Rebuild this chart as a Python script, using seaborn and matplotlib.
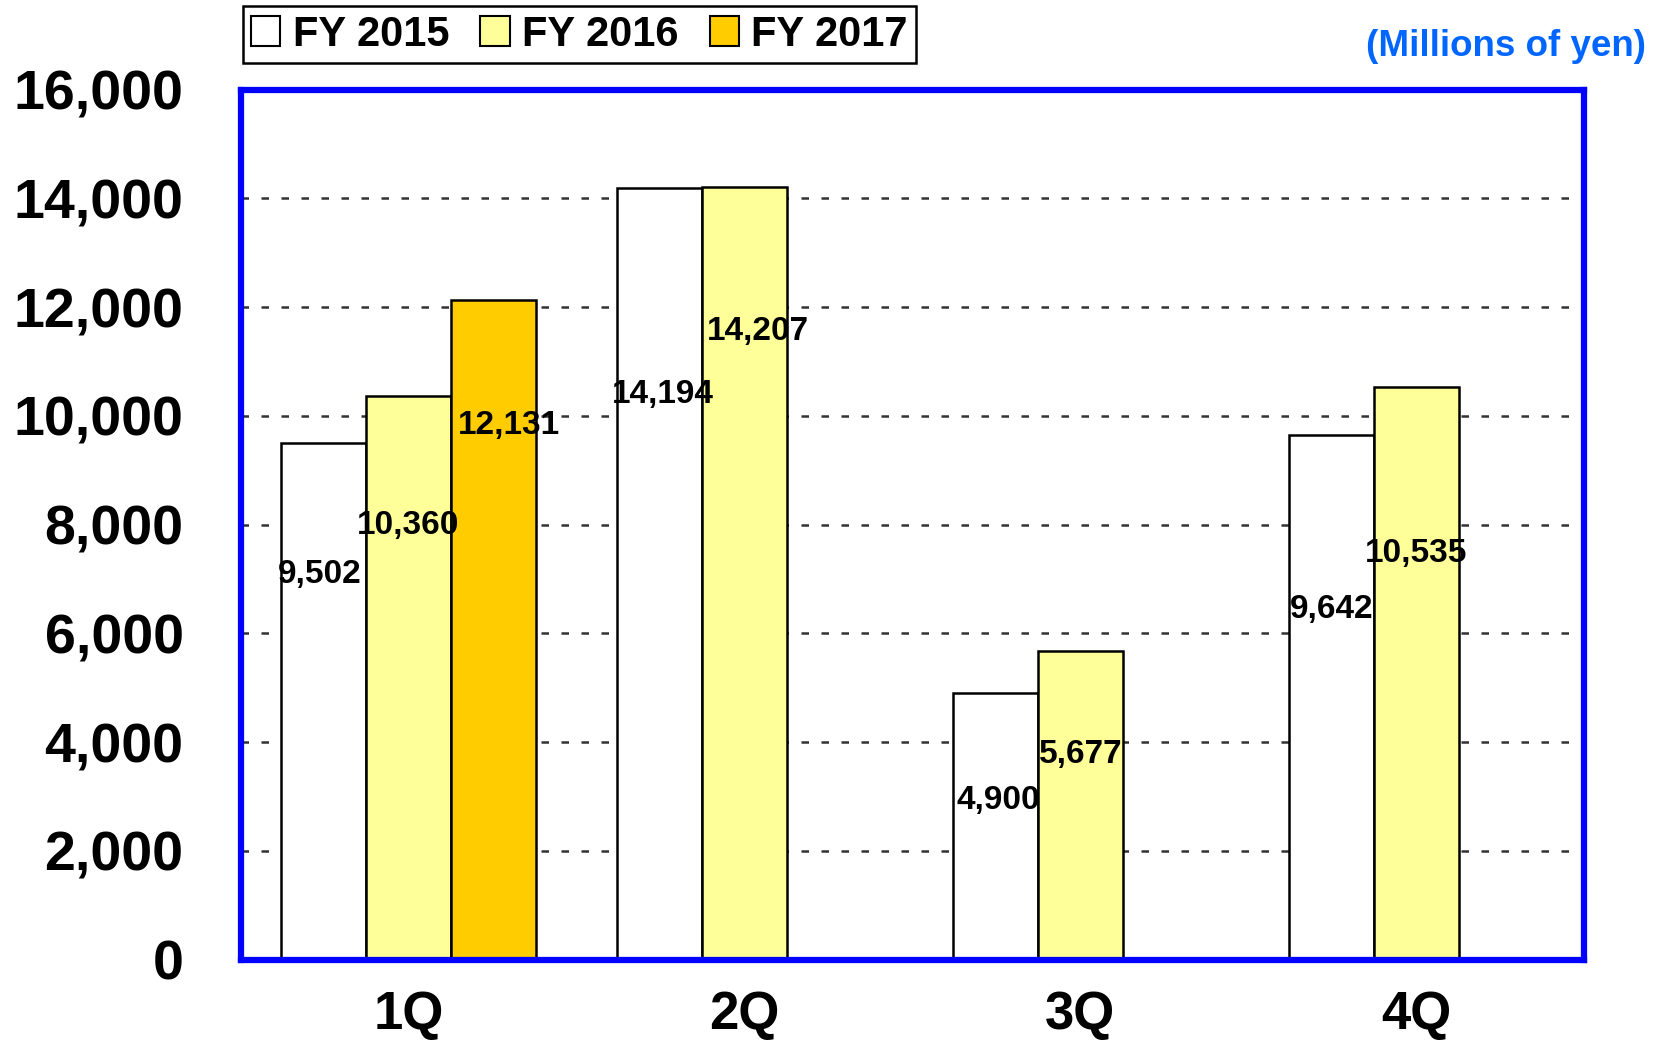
import pandas as pd
import matplotlib
matplotlib.use("Agg")
import matplotlib.pyplot as plt
from matplotlib.patches import Patch
import seaborn as sns

# Datos del gráfico (millones de yenes)
quarters = ["1Q", "2Q", "3Q", "4Q"]
years = ["FY 2015", "FY 2016", "FY 2017"]
fy2015 = [9502, 14194, 4900, 9642]
fy2016 = [10360, 14207, 5677, 10535]
fy2017 = [12131, None, None, None]
y_ticks = [0, 2000, 4000, 6000, 8000, 10000, 12000, 14000, 16000]

colors = {"FY 2015": "#FFFFFF", "FY 2016": "#FFFF99", "FY 2017": "#FFCC00"}

rows = []
for year, vals in zip(years, [fy2015, fy2016, fy2017]):
    for q, v in zip(quarters, vals):
        if v is not None:
            rows.append({"quarter": q, "year": year, "value": v})
df = pd.DataFrame(rows)

sns.set_style("white")
plt.rcParams["font.family"] = ["Liberation Sans", "DejaVu Sans"]
plt.rcParams["font.weight"] = "bold"
plt.rcParams["text.color"] = "black"
plt.rcParams["xtick.color"] = "black"
plt.rcParams["ytick.color"] = "black"

fig = plt.figure(figsize=(16.59, 10.42), dpi=100)
ax = fig.add_axes([0.145, 0.079, 0.81, 0.835])

sns.barplot(data=df, x="quarter", y="value", hue="year", order=quarters,
            hue_order=years, palette=colors, width=0.76, edgecolor="black",
            linewidth=1.8, saturation=1, legend=False, ax=ax, zorder=3)

# Posición vertical de las etiquetas (tal como en la diapositiva original)
label_y = {
    "FY 2015": [7080, 10390, 2920, 6440],
    "FY 2016": [7980, 11560, 3780, 7470],
    "FY 2017": [9830, None, None, None],
}
label_dx = {"FY 2015": [-0.01, 0.01, 0.01, 0.0],
            "FY 2016": [0.0, 0.04, 0.0, 0.0],
            "FY 2017": [0.045, 0, 0, 0]}

for year, cont in zip(years, ax.containers):
    vals = [v for v in df[df["year"] == year]["value"]]
    qs = [q for q in df[df["year"] == year]["quarter"]]
    for bar, v, q in zip(cont, vals, qs):
        i = quarters.index(q)
        xc = bar.get_x() + bar.get_width() / 2 + label_dx[year][i]
        ax.text(xc, label_y[year][i], f"{v:,}", ha="center", va="center",
                fontsize=24, fontweight="bold", color="black", zorder=5)

ax.set_ylim(0, 16000)
ax.set_xlim(-0.5, 3.5)
ax.set_yticks(y_ticks)
ax.set_yticklabels([f"{t:,}" for t in y_ticks], fontsize=40, fontweight="bold")
ax.set_xticks(range(len(quarters)))
ax.set_xticklabels(quarters, fontsize=38, fontweight="bold")
ax.tick_params(axis="both", length=0, labelcolor="black")
ax.tick_params(axis="y", pad=41)
ax.tick_params(axis="x", pad=22)
ax.set_xlabel("")
ax.set_ylabel("")

ax.yaxis.grid(True, linestyle=(0, (3, 5)), color="#333333", linewidth=1.8, zorder=0)
ax.xaxis.grid(False)
ax.set_axisbelow(True)
for s in ax.spines.values():
    s.set_visible(True)
    s.set_color("#0000FF")
    s.set_linewidth(4.5)
    s.set_zorder(6)

for lbl in ax.get_yticklabels():
    lbl.set_horizontalalignment("right")

handles = [Patch(facecolor=colors[y], edgecolor="black", linewidth=1.5, label=y) for y in years]
lg = fig.legend(handles=handles, loc="upper left", bbox_to_anchor=(0.1425, 1.0), ncol=3,
                frameon=True, fancybox=False, edgecolor="black", framealpha=1,
                prop={"size": 30, "weight": "bold"}, handlelength=0.7, handleheight=0.7,
                handletextpad=0.3, columnspacing=0.75, borderpad=0.2, borderaxespad=0.15)
lg.get_frame().set_linewidth(1.8)

fig.text(0.992, 0.955, "(Millions of yen)", ha="right", va="center", fontsize=26.5,
         fontweight="bold", color="#0066FF")

plt.savefig("out.png", dpi=100)
